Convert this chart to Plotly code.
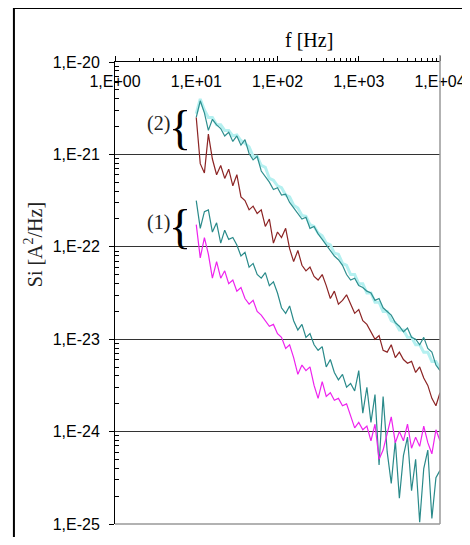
import math
import plotly.graph_objects as go

# ---------------- data ----------------
freq_hz = [10, 11.2, 12.6, 14.1, 15.8, 17.8, 20, 22.4, 25.1, 28.2,
           31.6, 35.5, 39.8, 44.7, 50.1, 56.2, 63.1, 70.8, 79.4, 89.1,
           100, 112, 126, 141, 158, 178, 200, 224, 251, 282,
           316, 355, 398, 447, 501, 562, 631, 708, 794, 891,
           1000, 1122, 1259, 1413, 1585, 1778, 1995, 2239, 2512, 2818,
           3162, 3548, 3981, 4467, 5012, 5623, 6310, 7079, 7943, 8913, 10000]

# log10 of Si [A^2/Hz]
log10_si_cyan2 = [-20.56, -20.40, -20.52, -20.60, -20.60, -20.68, -20.68, -20.74, -20.74, -20.80,
                  -20.79, -20.85, -20.88, -20.92, -21.02, -21.02, -21.12, -21.14, -21.26, -21.28,
                  -21.34, -21.36, -21.44, -21.46, -21.55, -21.58, -21.66, -21.67, -21.76, -21.78,
                  -21.85, -21.88, -21.96, -21.98, -22.07, -22.08, -22.18, -22.20, -22.30, -22.30,
                  -22.40, -22.40, -22.50, -22.50, -22.60, -22.60, -22.70, -22.70, -22.80, -22.82,
                  -22.90, -22.90, -22.98, -22.98, -23.06, -23.06, -23.14, -23.14, -23.24, -23.24, -23.32]
log10_si_teal2 = [-20.60, -20.42, -20.55, -20.74, -20.62, -20.68, -20.72, -20.80, -20.76, -20.86,
                  -20.80, -20.90, -20.84, -20.99, -21.06, -21.02, -21.18, -21.24, -21.30, -21.38,
                  -21.36, -21.44, -21.43, -21.52, -21.58, -21.64, -21.70, -21.68, -21.80, -21.78,
                  -21.86, -21.92, -21.98, -22.04, -22.10, -22.14, -22.20, -22.30, -22.36, -22.34,
                  -22.42, -22.44, -22.48, -22.50, -22.58, -22.56, -22.66, -22.70, -22.74, -22.82,
                  -22.86, -22.92, -22.88, -22.98, -23.00, -23.06, -22.98, -23.10, -23.14, -23.28, -23.34]
log10_si_red2 = [-20.60, -21.10, -21.20, -20.78, -21.05, -21.22, -21.12, -21.26, -21.16, -21.34,
                 -21.22, -21.46, -21.50, -21.60, -21.56, -21.64, -21.60, -21.78, -21.70, -21.96,
                 -21.84, -21.90, -21.80, -22.02, -22.16, -22.04, -22.20, -22.26, -22.22, -22.32,
                 -22.36, -22.30, -22.42, -22.56, -22.48, -22.62, -22.58, -22.52, -22.62, -22.72,
                 -22.68, -22.80, -22.84, -22.92, -23.00, -22.96, -23.12, -23.14, -23.06, -23.20,
                 -23.14, -23.22, -23.26, -23.24, -23.36, -23.30, -23.42, -23.50, -23.64, -23.72, -23.58]
log10_si_teal1 = [-21.50, -21.80, -21.62, -21.60, -21.84, -21.74, -21.96, -21.82, -21.92, -21.90,
                  -21.98, -22.10, -22.06, -22.22, -22.18, -22.30, -22.34, -22.28, -22.42, -22.38,
                  -22.50, -22.66, -22.72, -22.64, -22.80, -22.90, -22.84, -22.98, -22.94, -23.06,
                  -23.12, -23.08, -23.30, -23.22, -23.36, -23.44, -23.38, -23.52, -23.48, -23.56,
                  -23.34, -23.80, -23.52, -23.90, -23.60, -24.36, -23.62, -24.22, -24.56, -24.10,
                  -24.72, -24.26, -24.06, -24.64, -24.30, -24.98, -24.40, -24.20, -24.94, -24.50, -24.42]
log10_si_magenta1 = [-21.76, -22.12, -21.90, -22.08, -22.34, -22.16, -22.34, -22.26, -22.40, -22.36,
                     -22.48, -22.44, -22.56, -22.62, -22.58, -22.70, -22.74, -22.80, -22.86, -22.84,
                     -22.94, -22.98, -23.10, -23.06, -23.20, -23.38, -23.28, -23.34, -23.30, -23.50,
                     -23.64, -23.46, -23.62, -23.58, -23.66, -23.64, -23.72, -23.70, -23.84, -23.96,
                     -23.90, -23.98, -23.94, -24.10, -23.92, -24.30, -24.20, -24.02, -23.84, -24.12,
                     -24.00, -24.10, -23.92, -24.18, -24.06, -24.16, -23.94, -24.12, -24.24, -23.98, -24.10]

x_tick_vals = [1, 10, 100, 1000, 10000]
x_tick_text = ["1,E+00", "1,E+01", "1,E+02", "1,E+03", "1,E+04"]
y_tick_vals = [1e-25, 1e-24, 1e-23, 1e-22, 1e-21, 1e-20]
y_tick_text = ["1,E-25", "1,E-24", "1,E-23", "1,E-22", "1,E-21", "1,E-20"]


def to_si(logs):
    return [10 ** v for v in logs]


series = [
    ("cyan (2)", log10_si_cyan2, "#b4f0f0", 3.0),
    ("teal (2)", log10_si_teal2, "#2f8f8f", 1.2),
    ("red (2)", log10_si_red2, "#8c2424", 1.2),
    ("teal (1)", log10_si_teal1, "#2a8a8a", 1.2),
    ("magenta (1)", log10_si_magenta1, "#ee22ee", 1.2),
]

fig = go.Figure()
for name, vals, color, w in series:
    fig.add_trace(go.Scatter(x=freq_hz, y=to_si(vals), mode="lines", name=name,
                             line=dict(color=color, width=w), showlegend=False))

minor_y = [k * 10.0 ** e for e in range(-25, -20) for k in range(2, 10)]
minor_x = [k * 10.0 ** e for e in range(0, 4) for k in range(2, 10)]

tick_font = dict(family="Liberation Sans, Arial", size=16, color="black")
serif = "Liberation Serif, Times New Roman"

fig.update_xaxes(type="log", range=[0, 4], side="top",
                 tickmode="array", tickvals=x_tick_vals, ticktext=x_tick_text,
                 ticklabelposition="inside", ticklabelstandoff=14,
                 ticklabeloverflow="allow",
                 tickfont=tick_font, ticks="outside", ticklen=5, tickcolor="black",
                 showline=True, linecolor="black", linewidth=1,
                 showgrid=False, zeroline=False, automargin=False,
                 minor=dict(tickmode="array", tickvals=minor_x, ticks="outside",
                            ticklen=3, tickcolor="black", showgrid=False))
fig.update_yaxes(type="log", range=[-25, -20],
                 tickmode="array", tickvals=y_tick_vals, ticktext=y_tick_text,
                 tickfont=tick_font, ticks="outside", ticklen=5, tickcolor="black",
                 ticklabelstandoff=6, automargin=False,
                 showline=True, linecolor="black", linewidth=1,
                 showgrid=True, gridcolor="#333333", gridwidth=1, zeroline=False,
                 minor=dict(tickmode="array", tickvals=minor_y, ticks="inside",
                            ticklen=4, tickcolor="black", showgrid=False))

shapes = [
    # outer frame
    dict(type="rect", xref="paper", yref="paper", x0=-0.311, x1=1.15, y0=-0.07, y1=1.117,
         line=dict(color="black", width=2), fillcolor="rgba(0,0,0,0)", layer="below"),
    # right and bottom grey borders
    dict(type="line", xref="paper", yref="paper", x0=1, x1=1, y0=0, y1=1.015,
         line=dict(color="#999999", width=1.5)),
    dict(type="line", xref="paper", yref="paper", x0=0, x1=1, y0=0, y1=0,
         line=dict(color="#999999", width=1.5)),
    # greyer 1,E-24 grid line
    dict(type="line", xref="paper", yref="y", x0=0, x1=1,
         y0=math.log10(y_tick_vals[1]), y1=math.log10(y_tick_vals[1]),
         line=dict(color="#7a7a7a", width=2), layer="below"),
]

annotations = [
    dict(text="f [Hz]", xref="paper", yref="paper", x=0.597, y=1.048, showarrow=False,
         xanchor="center", yanchor="middle",
         font=dict(family=serif, size=20, color="black")),
    dict(text="Si [A<sup>2</sup>/Hz]", xref="paper", yref="paper", x=-0.25, y=0.605,
         xanchor="center", yanchor="middle",
         showarrow=False, textangle=-90, font=dict(family=serif, size=20, color="#222222")),
    dict(text="(2)", x=0.80, y=-20.67, showarrow=False, xanchor="right", yanchor="middle",
         xshift=-8, font=dict(family=serif, size=20, color="#222222")),
    dict(text="{", x=0.80, y=-20.71, showarrow=False, xanchor="center", yanchor="middle",
         width=14, font=dict(family=serif, size=48, color="black")),
    dict(text="(1)", x=0.80, y=-21.74, showarrow=False, xanchor="right", yanchor="middle",
         xshift=-8, font=dict(family=serif, size=20, color="#222222")),
    dict(text="{", x=0.80, y=-21.78, showarrow=False, xanchor="center", yanchor="middle",
         width=14, font=dict(family=serif, size=48, color="black")),
]

fig.update_layout(width=462, height=529, margin=dict(l=107, r=30, t=54, b=13),
                  paper_bgcolor="white", plot_bgcolor="white",
                  shapes=shapes, annotations=annotations)

fig.write_html("out.html")
